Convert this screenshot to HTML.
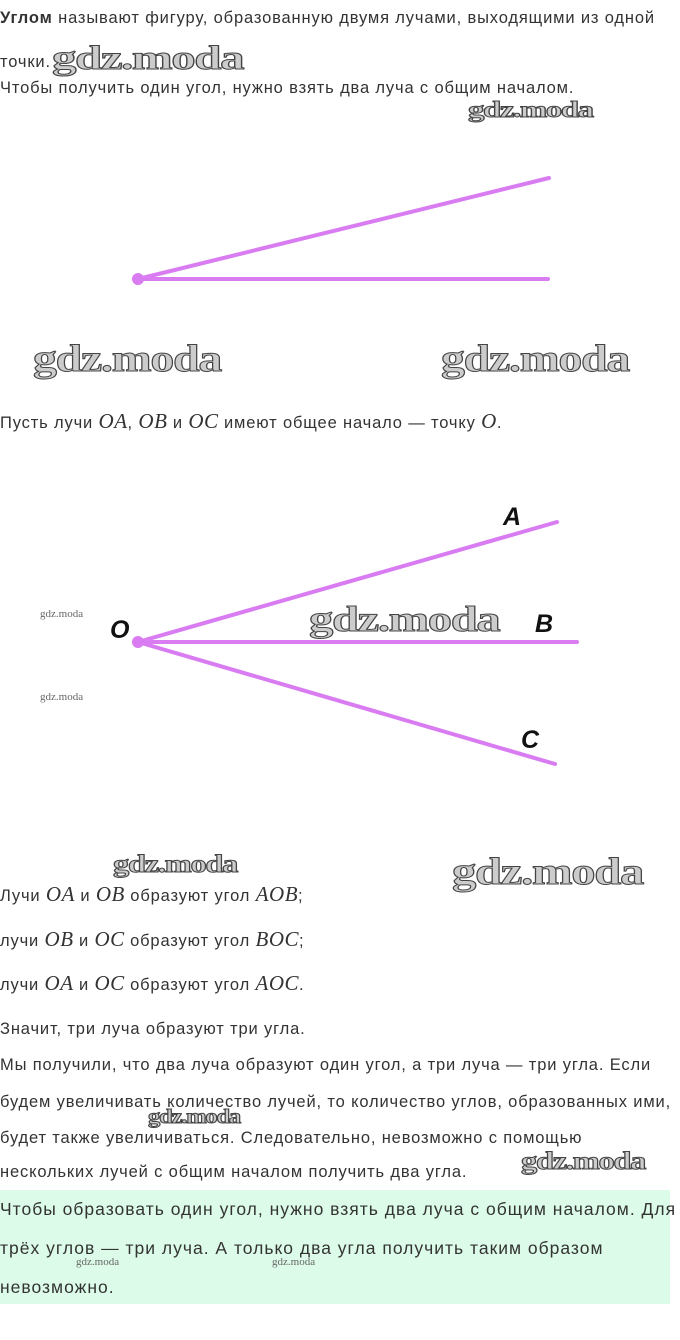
<!DOCTYPE html>
<html><head><meta charset="utf-8"><style>
body{margin:0;width:680px;height:1340px;background:#fff;position:relative;overflow:hidden;font-family:"Liberation Sans",sans-serif;color:#333;font-size:16.5px}
.t{position:absolute;left:0;white-space:nowrap;line-height:20px;letter-spacing:0.85px}
.m{font-family:"Liberation Serif",serif;font-style:italic;font-size:21px;letter-spacing:0.5px}
.w{position:absolute;font-family:"Liberation Serif",serif;font-weight:bold;white-space:nowrap;-webkit-text-stroke:1px #444;color:#ccc;letter-spacing:-1px;transform-origin:left top}
.ws{position:absolute;font-family:"Liberation Serif",serif;color:#666;font-size:11px;white-space:nowrap}
.green{position:absolute;left:0;top:1190px;width:670px;height:114px;background:#dcfbe8}
.g{letter-spacing:1px;font-size:17.5px}
</style></head><body>
<div class="t" style="top:8px"><b>Углом</b> называют фигуру, образованную двумя лучами, выходящими из одной</div>
<div class="t" style="top:52px">точки.</div>
<div class="w" style="left:52px;top:40px;font-size:34px;transform:scaleX(1.44)">gdz.moda</div>
<div class="t" style="top:78px">Чтобы получить один угол, нужно взять два луча с общим началом.</div>
<div class="w" style="left:468px;top:97px;font-size:23px;transform:scaleX(1.43)">gdz.moda</div>
<svg style="position:absolute;left:0;top:0" width="680" height="1340">
<g stroke="#d97cf2" stroke-width="4" stroke-linecap="round" fill="#d97cf2">
<line x1="138" y1="279" x2="549" y2="178"/>
<line x1="138" y1="279" x2="548" y2="279"/>
<circle cx="138" cy="279" r="6" stroke="none"/>
<line x1="138" y1="642" x2="557" y2="522"/>
<line x1="138" y1="642" x2="577" y2="642"/>
<line x1="138" y1="642" x2="555" y2="764"/>
<circle cx="138" cy="642" r="6" stroke="none"/>
</g>
<g font-family="Liberation Sans,sans-serif" font-style="italic" font-weight="bold" font-size="25" fill="#111">
<text x="503" y="525">A</text><text x="535" y="632">B</text><text x="110" y="638">O</text><text x="521" y="748">C</text>
</g>
</svg>
<div class="w" style="left:33px;top:337px;font-size:38px;transform:scaleX(1.26)">gdz.moda</div>
<div class="w" style="left:441px;top:337px;font-size:38px;transform:scaleX(1.26)">gdz.moda</div>
<div class="t" style="top:411px">Пусть лучи <span class="m">OA</span>, <span class="m">OB</span> и <span class="m">OC</span> имеют общее начало — точку <span class="m">O</span>.</div>
<div class="ws" style="left:40px;top:608px">gdz.moda</div>
<div class="ws" style="left:40px;top:691px">gdz.moda</div>
<div class="w" style="left:309px;top:598px;font-size:36px;transform:scaleX(1.35)">gdz.moda</div>
<div class="w" style="left:113px;top:851px;font-size:25px;transform:scaleX(1.3)">gdz.moda</div>
<div class="w" style="left:452px;top:850px;font-size:38px;transform:scaleX(1.28)">gdz.moda</div>
<div class="t" style="top:884px">Лучи <span class="m">OA</span> и <span class="m">OB</span> образуют угол <span class="m">AOB</span>;</div>
<div class="t" style="top:929px">лучи <span class="m">OB</span> и <span class="m">OC</span> образуют угол <span class="m">BOC</span>;</div>
<div class="t" style="top:973px">лучи <span class="m">OA</span> и <span class="m">OC</span> образуют угол <span class="m">AOC</span>.</div>
<div class="t" style="top:1019px">Значит, три луча образуют три угла.</div>
<div class="t" style="top:1055px">Мы получили, что два луча образуют один угол, а три луча — три угла. Если</div>
<div class="t" style="top:1092px">будем увеличивать количество лучей, то количество углов, образованных ими,</div>
<div class="w" style="left:148px;top:1106px;font-size:20px;transform:scaleX(1.23)">gdz.moda</div>
<div class="t" style="top:1128px">будет также увеличиваться. Следовательно, невозможно с помощью</div>
<div class="w" style="left:521px;top:1148px;font-size:25px;transform:scaleX(1.3)">gdz.moda</div>
<div class="t" style="top:1162px">нескольких лучей с общим началом получить два угла.</div>
<div class="green"></div>
<div class="t g" style="top:1199px">Чтобы образовать один угол, нужно взять два луча с общим началом. Для</div>
<div class="t g" style="top:1238px">трёх углов — три луча. А только два угла получить таким образом</div>
<div class="ws" style="left:76px;top:1256px">gdz.moda</div>
<div class="ws" style="left:272px;top:1256px">gdz.moda</div>
<div class="t g" style="top:1277px">невозможно.</div>
</body></html>
